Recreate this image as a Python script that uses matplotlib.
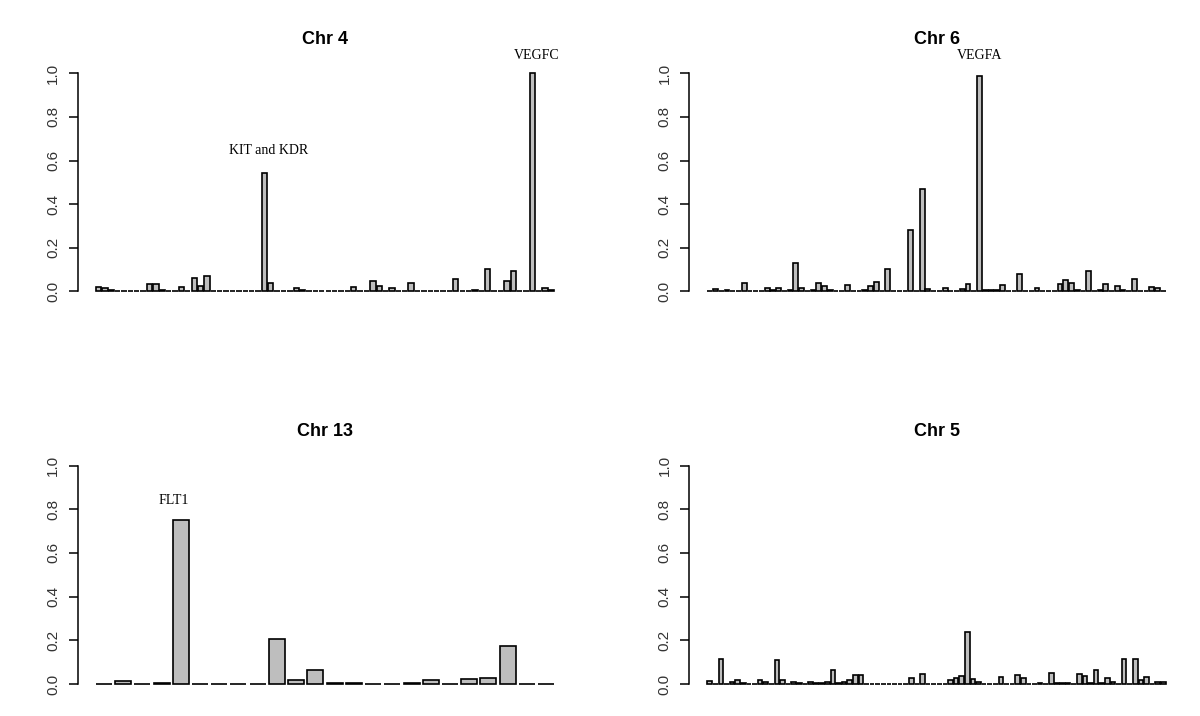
import matplotlib
matplotlib.use('Agg')
from matplotlib import pyplot as plt
import numpy as np

# bar heights per chromosome (zeros drawn as flat bars)
chr4_values = [0.02, 0.016, 0.005, 0, 0, 0, 0, 0, 0.035, 0.035, 0.004, 0,
               0, 0.018, 0.003, 0.06, 0.022, 0.068, 0, 0, 0, 0, 0, 0,
               0, 0, 0.543, 0.037, 0, 0, 0, 0.016, 0.004, 0, 0, 0,
               0, 0, 0.003, 0, 0.02, 0, 0, 0.045, 0.022, 0, 0.016, 0,
               0, 0.04, 0, 0, 0, 0, 0, 0, 0.056, 0, 0, 0.004,
               0, 0.10, 0, 0, 0.045, 0.093, 0, 0, 1.0, 0, 0.016, 0.004]

chr6_values = [0, 0.012, 0, 0.004, 0, 0, 0.04, 0, 0, 0, 0.013, 0.004,
               0.013, 0, 0.004, 0.13, 0.013, 0, 0.004, 0.04, 0.022, 0.005, 0, 0,
               0.028, 0, 0, 0.004, 0.022, 0.044, 0, 0.10, 0, 0, 0, 0.28,
               0, 0.47, 0.01, 0, 0, 0.016, 0, 0, 0.012, 0.035, 0, 0.988,
               0.004, 0.004, 0.004, 0.028, 0, 0, 0.078, 0, 0, 0.013, 0, 0,
               0, 0.035, 0.051, 0.04, 0.004, 0, 0.093, 0, 0.004, 0.035, 0, 0.024,
               0.005, 0, 0.056, 0, 0, 0.018, 0.013, 0]

chr13_values = [0, 0.012, 0, 0.004, 0.75, 0, 0, 0, 0, 0.205, 0.018, 0.066,
                0.005, 0.005, 0, 0, 0.005, 0.018, 0, 0.024, 0.029, 0.175, 0, 0]

chr5_values = [0.012, 0, 0.115, 0, 0.009, 0.016, 0.004, 0, 0, 0.016, 0.011, 0,
               0.108, 0.016, 0, 0.011, 0.004, 0, 0.011, 0.004, 0.004, 0.011, 0.066, 0.004,
               0.011, 0.018, 0.039, 0.039, 0, 0, 0, 0, 0, 0, 0, 0,
               0.028, 0, 0.044, 0, 0, 0, 0, 0.018, 0.027, 0.038, 0.24, 0.022,
               0.011, 0, 0, 0, 0.033, 0, 0, 0.039, 0.027, 0, 0, 0.004,
               0, 0.05, 0.003, 0.003, 0.003, 0, 0.044, 0.038, 0.004, 0.066, 0.004, 0.029,
               0.011, 0, 0.115, 0, 0.115, 0.016, 0.033, 0, 0.011, 0.011]

titles = ['Chr 4', 'Chr 6', 'Chr 13', 'Chr 5']
panel_values = [chr4_values, chr6_values, chr13_values, chr5_values]

# gene labels: (panel, bar index, label, y)
gene_labels = [(0, 26.7, 'KIT and KDR', 0.645),
               (0, 68.6, 'VEGFC', 1.08),
               (1, 47.0, 'VEGFA', 1.08),
               (2, 3.65, 'FLT1', 0.84)]

# axes boxes in figure fractions (left, bottom, width, height)
W, H = 1200, 716
boxes = [(77.5 / W, (H - 300) / H, 495 / W, 235.4 / H),
         (689 / W, (H - 300) / H, 495 / W, 235.4 / H),
         (77.5 / W, (H - 692.7) / H, 495 / W, 235.9 / H),
         (689 / W, (H - 692.7) / H, 495 / W, 235.9 / H)]


def draw_panel(ax, values, title):
    n = len(values)
    centers = 0.7 + 1.2 * np.arange(n)
    ax.bar(centers, values, width=1.0, color='#bebebe', edgecolor='black',
           linewidth=1.2)
    span = 1.2 * n - 0.2
    ax.set_xlim(0.2 - 0.04 * span, 1.2 * n + 0.04 * span)
    ax.set_ylim(-0.04, 1.04)
    for side in ['top', 'right', 'bottom']:
        ax.spines[side].set_visible(False)
    ax.spines['left'].set_bounds(0, 1)
    ax.spines['left'].set_linewidth(1.1)
    ax.set_xticks([])
    ax.set_yticks(np.arange(0, 1.01, 0.2))
    ax.set_yticklabels(['%.1f' % t for t in np.arange(0, 1.01, 0.2)],
                       rotation=90, va='center', fontsize=11,
                       family='Liberation Sans', color='#333333')
    ax.tick_params(axis='y', length=6.5, width=1.1, pad=6)
    ax.set_title(title, fontsize=13, fontweight='bold',
                 family='Liberation Sans', pad=15)


fig = plt.figure(figsize=(W / 100, H / 100), dpi=100)
axes = []
for box, values, title in zip(boxes, panel_values, titles):
    ax = fig.add_axes(box)
    draw_panel(ax, values, title)
    axes.append(ax)

for panel, idx, label, y in gene_labels:
    axes[panel].text(0.7 + 1.2 * idx, y, label, ha='center', va='center',
                     fontsize=10, family='Liberation Serif', clip_on=False)

fig.savefig('out.png', dpi=100)
